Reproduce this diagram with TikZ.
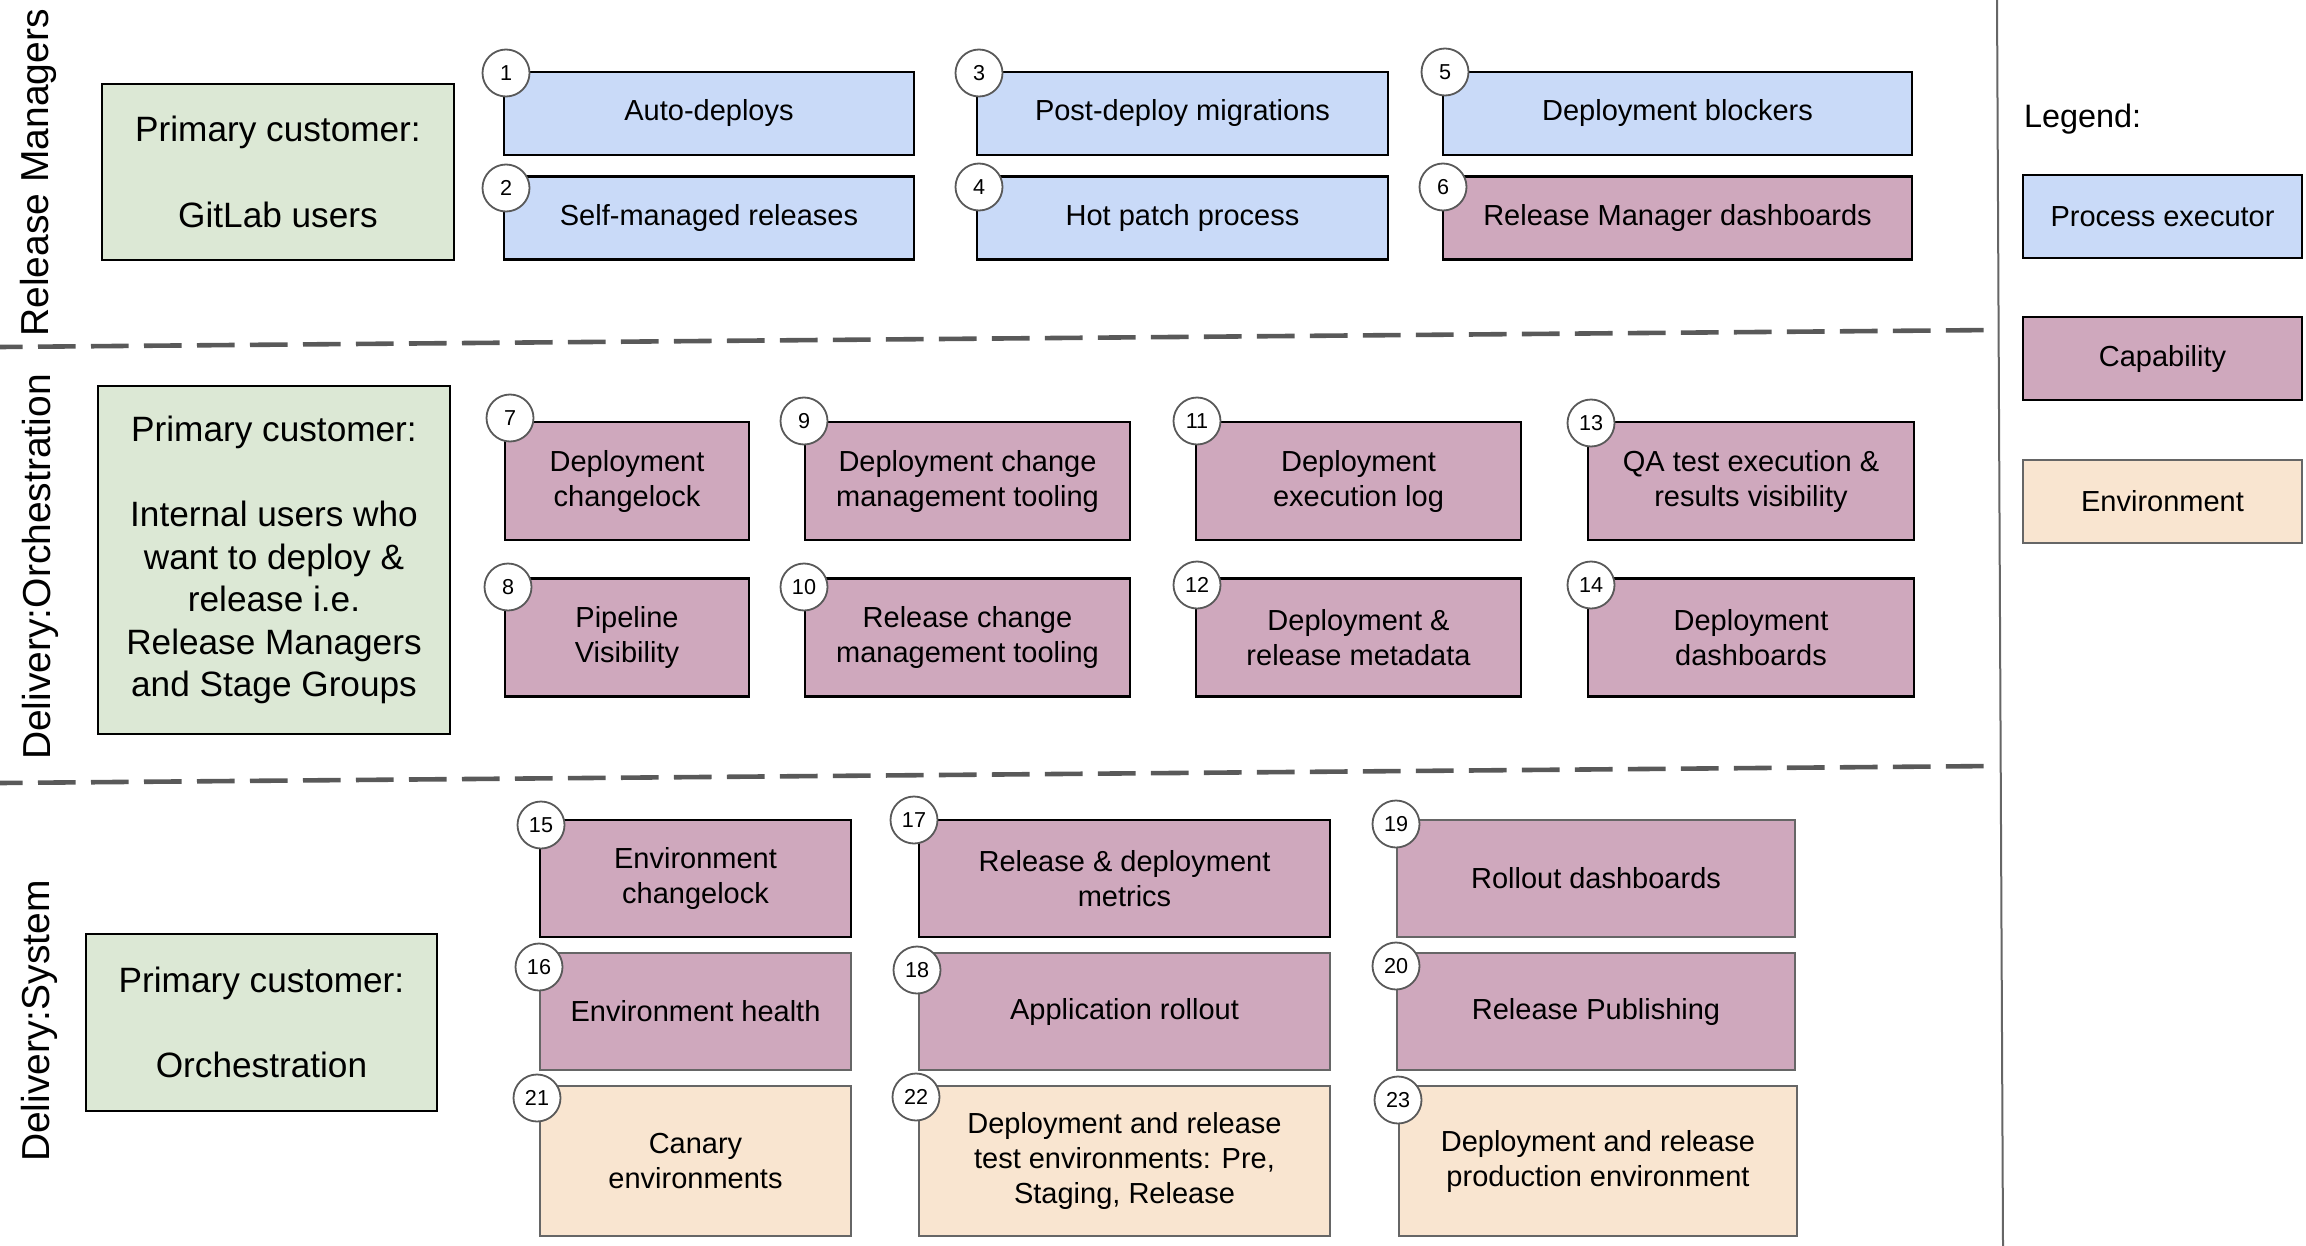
\documentclass[tikz,border=0pt]{standalone}
\usepackage{fontspec}
\setmainfont{Liberation Sans}
\definecolor{procblue}{HTML}{C9DAF8}
\definecolor{capmauve}{HTML}{CFA8BD}
\definecolor{envpeach}{HTML}{F9E5D0}
\definecolor{custgreen}{HTML}{DCE8D5}
\definecolor{lanegray}{HTML}{595959}
\definecolor{rimgray}{HTML}{666666}
\tikzset{
	box/.style={draw=black,line width=1.2pt,align=center,inner sep=2pt,font=\fontsize{14.5}{17.5}\selectfont},
	procbox/.style={box,fill=procblue},
	capbox/.style={box,fill=capmauve},
	envbox/.style={box,fill=envpeach},
	custbox/.style={box,fill=custgreen,font=\fontsize{17.6}{21.3}\selectfont},
	grayrim/.style={draw=rimgray},
	numbadge/.style={circle,draw=lanegray,line width=0.9pt,fill=white,minimum size=23.5pt,inner sep=0pt,font=\fontsize{10.8}{12}\selectfont},
	lane/.style={rotate=90,anchor=base,font=\fontsize{19.5}{22}\selectfont},
	lanesep/.style={draw=lanegray,line width=2.3pt,dash pattern=on 18.8pt off 7.7pt,dash phase=7.5pt}
}
\begin{document}
\begin{tikzpicture}[x=0.5pt,y=-0.5pt]
	\useasboundingbox (0,0) rectangle (2306,1246);
	% lanes
	\coordinate (s1a) at (0,347); \coordinate (s1b) at (1995,330);
	\coordinate (s2a) at (0,783); \coordinate (s2b) at (1995,766);
	\coordinate (vt) at (1997,0); \coordinate (vb) at (2003,1246);
	\draw[lanesep] (s1a) -- (s1b);
	\draw[lanesep] (s2a) -- (s2b);
	\draw[rimgray,line width=1pt] (vt) -- (vb);
	\node[lane] (rm) at (48,173) {Release Managers};
	\node[lane] (orch) at (50,567) {Delivery:Orchestration};
	\node[lane] (sys) at (49,1021) {Delivery:System};
	% customers
	\node[custbox,minimum width=176pt,minimum height=88pt] (c1) at (278,172) {Primary customer:\\[21.3pt]GitLab users};
	\node[custbox,minimum width=176pt,minimum height=174pt] (c2) at (274,560) {Primary customer:\\[21.3pt]Internal users who\\want to deploy \&\\release i.e.\\Release Managers\\and Stage Groups};
	\node[custbox,minimum width=175.5pt,minimum height=88.5pt] (c3) at (261.5,1022.5) {Primary customer:\\[21.3pt]Orchestration};
	% release managers
	\node[procbox,minimum width=205pt,minimum height=41.5pt] (b1) at (709,113.5) {Auto-deploys};
	\node[procbox,minimum width=205pt,minimum height=41.5pt] (b2) at (709,218) {Self-managed releases};
	\node[procbox,minimum width=205.5pt,minimum height=41.5pt] (b3) at (1182.5,113.5) {Post-deploy migrations};
	\node[procbox,minimum width=205.5pt,minimum height=41.5pt] (b4) at (1182.5,218) {Hot patch process};
	\node[procbox,minimum width=234.5pt,minimum height=41.5pt] (b5) at (1677.5,113.5) {Deployment blockers};
	\node[capbox,minimum width=234.5pt,minimum height=41.5pt] (b6) at (1677.5,218) {Release Manager dashboards};
	% orchestration
	\node[capbox,minimum width=122pt,minimum height=59pt] (b7) at (627,481) {Deployment\\changelock};
	\node[capbox,minimum width=122pt,minimum height=59pt] (b8) at (627,637.5) {Pipeline\\Visibility};
	\node[capbox,minimum width=162.5pt,minimum height=59pt] (b9) at (967.5,481) {Deployment change\\management tooling};
	\node[capbox,minimum width=162.5pt,minimum height=59pt] (b10) at (967.5,637.5) {Release change\\management tooling};
	\node[capbox,minimum width=162.5pt,minimum height=59pt] (b11) at (1358.5,481) {Deployment\\execution log};
	\node[capbox,minimum width=162.5pt,minimum height=59pt] (b12) at (1358.5,637.5) {Deployment \&\\release metadata};
	\node[capbox,minimum width=163pt,minimum height=59pt] (b13) at (1751,481) {QA test execution \&\\results visibility};
	\node[capbox,minimum width=163pt,minimum height=59pt] (b14) at (1751,637.5) {Deployment\\dashboards};
	% system
	\node[capbox,minimum width=155.5pt,minimum height=58.5pt] (b15) at (695.5,878.5) {Environment\\changelock};
	\node[capbox,grayrim,minimum width=155.5pt,minimum height=58.5pt] (b16) at (695.5,1011.5) {Environment health};
	\node[envbox,grayrim,minimum width=155.5pt,minimum height=75pt] (b21) at (695.5,1161) {Canary\\environments};
	\node[capbox,minimum width=205.5pt,minimum height=58.5pt] (b17) at (1124.5,878.5) {Release \& deployment\\metrics};
	\node[capbox,grayrim,minimum width=205.5pt,minimum height=58.5pt] (b18) at (1124.5,1011.5) {Application rollout};
	\node[envbox,grayrim,minimum width=205.5pt,minimum height=75pt] (b22) at (1124.5,1161) {Deployment and release\\test environments: Pre,\\Staging, Release};
	\node[capbox,grayrim,minimum width=199pt,minimum height=58.5pt] (b19) at (1596,878.5) {Rollout dashboards};
	\node[capbox,grayrim,minimum width=199pt,minimum height=58.5pt] (b20) at (1596,1011.5) {Release Publishing};
	\node[envbox,grayrim,minimum width=199pt,minimum height=75pt] (b23) at (1598,1161) {Deployment and release\\production environment};
	% numbers
	\foreach \n/\x/\y in {1/506/73,2/506/188,3/979/73,4/979/187,5/1445/72,6/1443/187,
		7/510/418,8/508/587,9/804/421,10/804/587,11/1197/421,12/1197/585,13/1591/423,14/1591/585,
		15/541/825,16/539/967,21/537/1098,17/914/820,18/917/970,22/916/1097,19/1396/824,20/1396/966,23/1398/1100}
		\node[numbadge] (n\n) at (\x,\y) {\n};
	% legend
	\node[anchor=base west,font=\fontsize{16.2}{19}\selectfont] (lg) at (2017,128) {Legend:};
	\node[procbox,minimum width=139.5pt,minimum height=41.5pt] (lp) at (2162.5,216.5) {Process executor};
	\node[capbox,minimum width=139.5pt,minimum height=41.5pt] (lc) at (2162.5,358.5) {Capability};
	\node[envbox,grayrim,minimum width=139.5pt,minimum height=41.5pt] (le) at (2162.5,501.5) {Environment};
\end{tikzpicture}
\end{document}
